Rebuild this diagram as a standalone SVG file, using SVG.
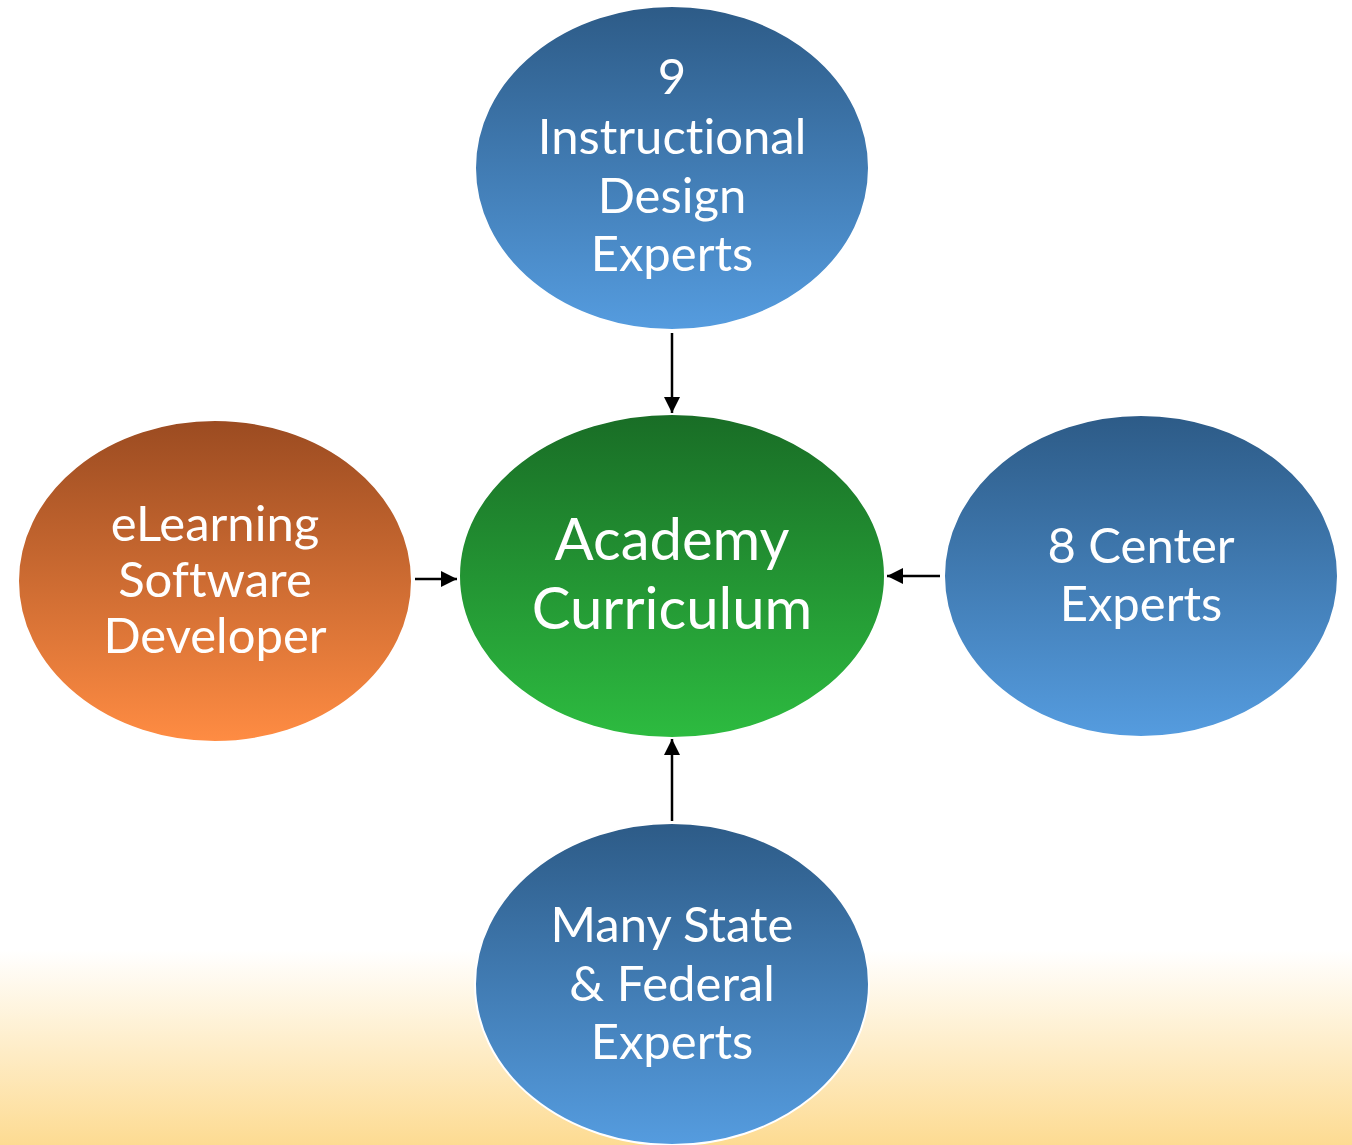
<svg xmlns="http://www.w3.org/2000/svg" width="1352" height="1145" viewBox="0 0 1352 1145">
<defs>
<linearGradient id="bg" x1="0" y1="0" x2="0" y2="1">
<stop offset="0" stop-color="#ffffff"/>
<stop offset="0.83" stop-color="#ffffff"/>
<stop offset="1" stop-color="#fddb92"/>
</linearGradient>
<linearGradient id="blue" x1="0" y1="0" x2="0" y2="1">
<stop offset="0" stop-color="#2d5b87"/>
<stop offset="1" stop-color="#559cdf"/>
</linearGradient>
<linearGradient id="green" x1="0" y1="0" x2="0" y2="1">
<stop offset="0" stop-color="#196d26"/>
<stop offset="1" stop-color="#2dbb40"/>
</linearGradient>
<linearGradient id="orange" x1="0" y1="0" x2="0" y2="1">
<stop offset="0" stop-color="#9b4b21"/>
<stop offset="1" stop-color="#ff8c43"/>
</linearGradient>
<marker id="arr" viewBox="0 0 10 10" refX="10" refY="5" markerWidth="16" markerHeight="16" markerUnits="userSpaceOnUse" orient="auto">
<path d="M0,0 L10,5 L0,10 Z" fill="#000"/>
</marker>
</defs>
<style>
.node { stroke: #ffffff; stroke-width: 2; }
.lbl { font-family: Lato, "Liberation Sans", sans-serif; font-size: 49px; fill: #ffffff; text-anchor: middle; font-variant-ligatures: none; font-feature-settings: "liga" 0, "clig" 0; }
.big { font-size: 58px; }
.conn { stroke: #000; stroke-width: 2.5; fill: none; marker-end: url(#arr); }
</style>
<rect x="0" y="0" width="1352" height="1145" fill="url(#bg)"/>
<g id="connectors">
<line class="conn" x1="672" y1="333" x2="672" y2="413"/>
<line class="conn" x1="415" y1="579" x2="457" y2="579"/>
<line class="conn" x1="940" y1="576" x2="887" y2="576"/>
<line class="conn" x1="672" y1="821" x2="672" y2="739"/>
</g>
<g id="instructional-design">
<ellipse class="node" cx="672" cy="168" rx="197" ry="162" fill="url(#blue)"/>
<text class="lbl"><tspan x="672" y="94">9</tspan><tspan x="672" y="154">Instructional</tspan><tspan x="672" y="213">Design</tspan><tspan x="672" y="271">Experts</tspan></text>
</g>
<g id="academy-curriculum">
<ellipse class="node" cx="672" cy="576" rx="213" ry="162" fill="url(#green)"/>
<text class="lbl big"><tspan x="672" y="560">Academy</tspan><tspan x="672" y="629">Curriculum</tspan></text>
</g>
<g id="elearning-developer">
<ellipse class="node" cx="215" cy="581" rx="197" ry="161" fill="url(#orange)"/>
<text class="lbl"><tspan x="215" y="541">eLearning</tspan><tspan x="215" y="597">Software</tspan><tspan x="215" y="653">Developer</tspan></text>
</g>
<g id="center-experts">
<ellipse class="node" cx="1141" cy="576" rx="197" ry="161" fill="url(#blue)"/>
<text class="lbl"><tspan x="1141" y="563">8 Center</tspan><tspan x="1141" y="621">Experts</tspan></text>
</g>
<g id="state-federal">
<ellipse class="node" cx="672" cy="984" rx="197" ry="161" fill="url(#blue)"/>
<text class="lbl"><tspan x="672" y="942">Many State</tspan><tspan x="672" y="1001">&amp; Federal</tspan><tspan x="672" y="1059">Experts</tspan></text>
</g>
</svg>
